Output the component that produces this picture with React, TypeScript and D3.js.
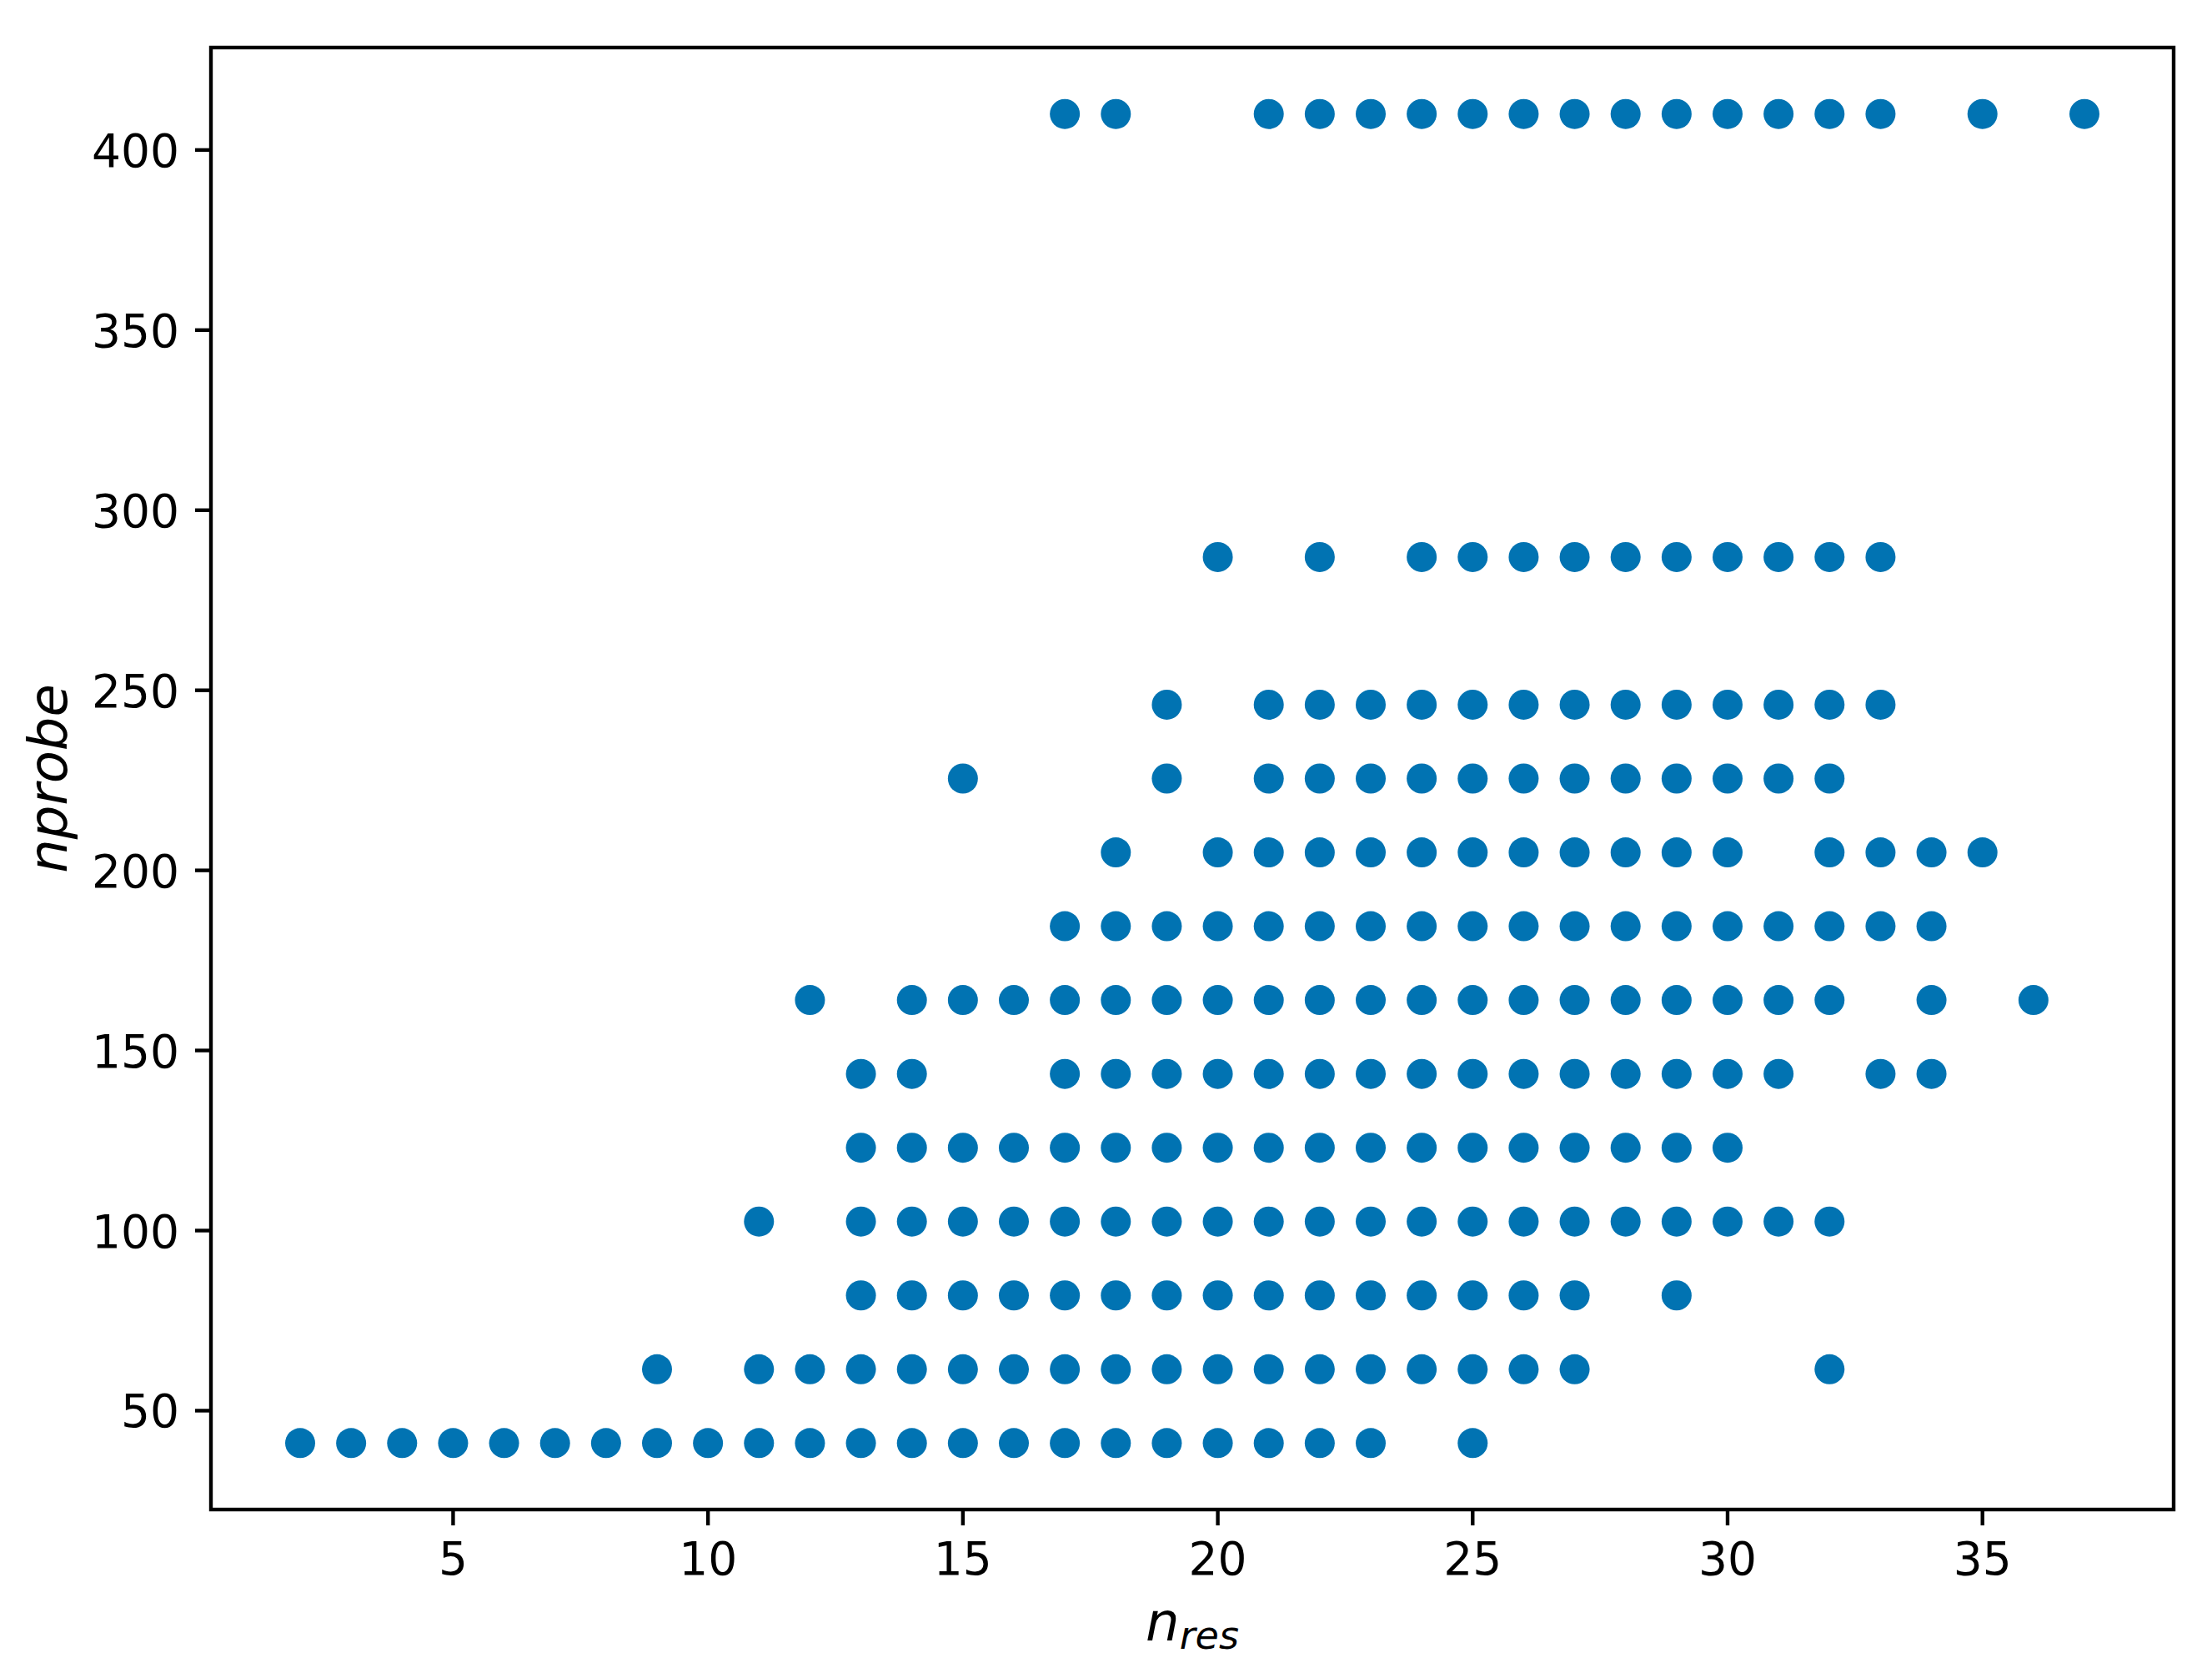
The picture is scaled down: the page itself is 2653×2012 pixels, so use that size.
import React from "react";
import * as d3 from "d3";

// nprobe levels (y) and the n_res values (x) that have a point at each level
const level410: number[] = [17, 18, 21, 22, 23, 24, 25, 26, 27, 28, 29, 30, 31, 32, 33, 35, 37];
const level287: number[] = [20, 22, 24, 25, 26, 27, 28, 29, 30, 31, 32, 33];
const level246: number[] = [19, 21, 22, 23, 24, 25, 26, 27, 28, 29, 30, 31, 32, 33];
const level225: number[] = [15, 19, 21, 22, 23, 24, 25, 26, 27, 28, 29, 30, 31, 32];
const level205: number[] = [18, 20, 21, 22, 23, 24, 25, 26, 27, 28, 29, 30, 32, 33, 34, 35];
const level184: number[] = [17, 18, 19, 20, 21, 22, 23, 24, 25, 26, 27, 28, 29, 30, 31, 32, 33, 34];
const level164: number[] = [12, 14, 15, 16, 17, 18, 19, 20, 21, 22, 23, 24, 25, 26, 27, 28, 29, 30, 31, 32, 34, 36];
const level143: number[] = [13, 14, 17, 18, 19, 20, 21, 22, 23, 24, 25, 26, 27, 28, 29, 30, 31, 33, 34];
const level123: number[] = [13, 14, 15, 16, 17, 18, 19, 20, 21, 22, 23, 24, 25, 26, 27, 28, 29, 30];
const level102: number[] = [11, 13, 14, 15, 16, 17, 18, 19, 20, 21, 22, 23, 24, 25, 26, 27, 28, 29, 30, 31, 32];
const level82: number[] = [13, 14, 15, 16, 17, 18, 19, 20, 21, 22, 23, 24, 25, 26, 27, 29];
const level61: number[] = [9, 11, 12, 13, 14, 15, 16, 17, 18, 19, 20, 21, 22, 23, 24, 25, 26, 27, 32];
const level41: number[] = [2, 3, 4, 5, 6, 7, 8, 9, 10, 11, 12, 13, 14, 15, 16, 17, 18, 19, 20, 21, 22, 23, 25];

const nprobeLevels: number[] = [410, 287, 246, 225.5, 205, 184.5, 164, 143.5, 123, 102.5, 82, 61.5, 41];
const nresRows: number[][] = [
  level410, level287, level246, level225, level205, level184, level164,
  level143, level123, level102, level82, level61, level41,
];

const xTicks: number[] = [5, 10, 15, 20, 25, 30, 35];
const yTicks: number[] = [50, 100, 150, 200, 250, 300, 350, 400];

const W = 2653;
const H = 2012;
const left = 253;
const right = 2607;
const top = 57;
const bottom = 1810;
const dotColor = "#0173B2";
const tickFont = 55;
const labelFont = 64;
const tickLen = 19;
const pad = 19;

export default function App() {
  const points: { x: number; y: number }[] = [];
  nresRows.forEach((row, i) => row.forEach((x) => points.push({ x, y: nprobeLevels[i] })));

  const xs = points.map((p) => p.x);
  const ys = points.map((p) => p.y);
  const [xmin, xmax] = d3.extent(xs) as [number, number];
  const [ymin, ymax] = d3.extent(ys) as [number, number];
  const mx = (xmax - xmin) * 0.05;
  const my = (ymax - ymin) * 0.05;

  const x = d3.scaleLinear().domain([xmin - mx, xmax + mx]).range([left, right]);
  const y = d3.scaleLinear().domain([ymin - my, ymax + my]).range([bottom, top]);

  const font = "'DejaVu Sans', sans-serif";

  return (
    <div style={{ position: "absolute", left: 0, top: 0 }}>
      <svg width={W} height={H} viewBox={`0 0 ${W} ${H}`} style={{ display: "block", background: "#fff" }}>
        <rect x={0} y={0} width={W} height={H} fill="#fff" />
        {points.map((p, i) => (
          <circle key={i} cx={x(p.x)} cy={y(p.y)} r={18} fill={dotColor} />
        ))}
        <rect x={left} y={top} width={right - left} height={bottom - top} fill="none" stroke="#000" strokeWidth={4.4} />
        {xTicks.map((t) => (
          <g key={"x" + t}>
            <line x1={x(t)} x2={x(t)} y1={bottom} y2={bottom + tickLen} stroke="#000" strokeWidth={4.4} />
            <text
              x={x(t)}
              y={bottom + tickLen + pad + tickFont * 0.729}
              textAnchor="middle"
              fontFamily={font}
              fontSize={tickFont}
              fill="#000"
            >
              {t}
            </text>
          </g>
        ))}
        {yTicks.map((t) => (
          <g key={"y" + t}>
            <line x1={left - tickLen} x2={left} y1={y(t)} y2={y(t)} stroke="#000" strokeWidth={4.4} />
            <text
              x={left - tickLen - pad}
              y={y(t) + (tickFont * 0.729) / 2}
              textAnchor="end"
              fontFamily={font}
              fontSize={tickFont}
              fill="#000"
            >
              {t}
            </text>
          </g>
        ))}
        <text
          x={(left + right) / 2}
          y={1967}
          textAnchor="middle"
          fontFamily={font}
          fontStyle="italic"
          fontSize={labelFont}
          fill="#000"
        >
          n
          <tspan fontSize={labelFont * 0.72} dy={10}>res</tspan>
        </text>
        <text
          transform={`translate(80, ${(top + bottom) / 2}) rotate(-90)`}
          textAnchor="middle"
          fontFamily={font}
          fontStyle="italic"
          fontSize={labelFont}
          fill="#000"
        >
          nprobe
        </text>
      </svg>
    </div>
  );
}
